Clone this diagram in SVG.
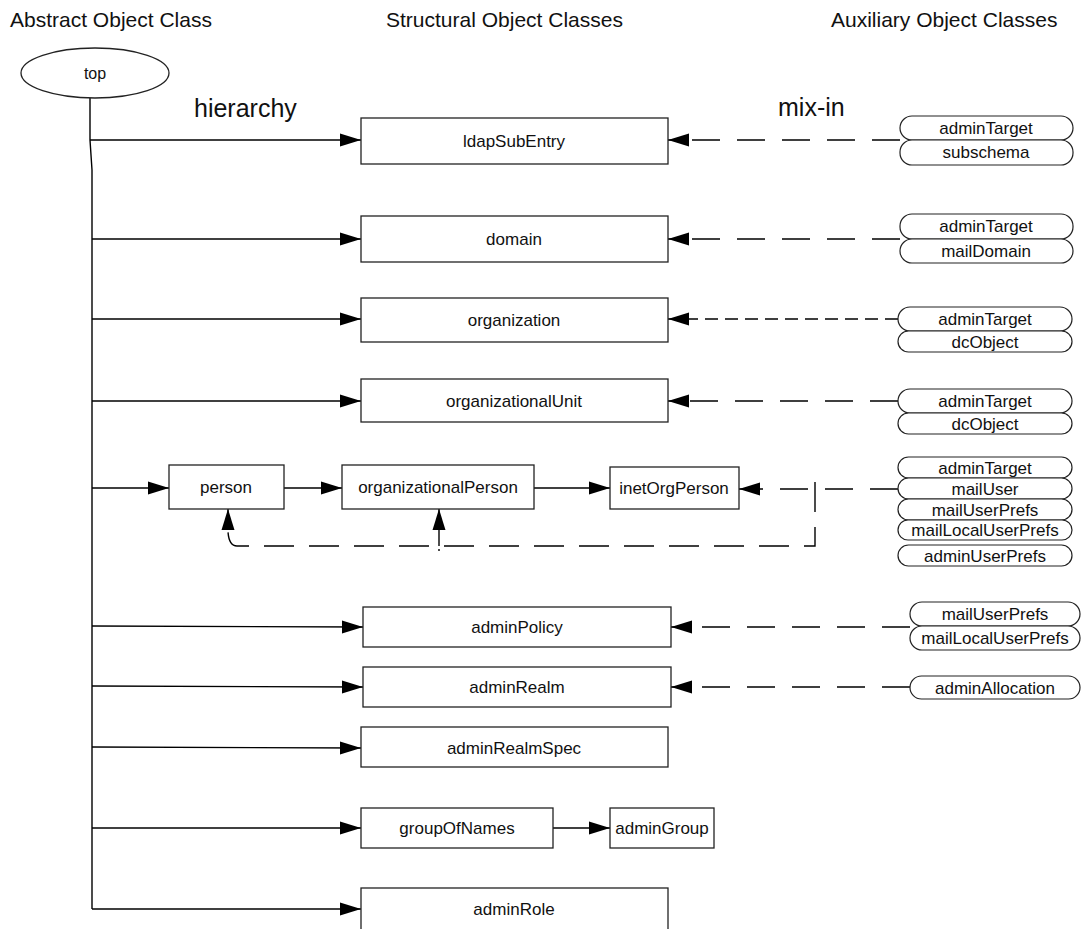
<svg xmlns="http://www.w3.org/2000/svg" width="1083" height="929" viewBox="0 0 1083 929">
  <style>
    text { font-family: "Liberation Sans", Arial, Helvetica, sans-serif; fill: #111; }
    .title { font-size: 21px; }
    .big { font-size: 25px; }
    .lbl { font-size: 17px; text-anchor: middle; }
    .box { fill: #fff; stroke: #222; stroke-width: 1.3; }
    .pill { fill: #fff; stroke: #222; stroke-width: 1.2; }
    .solid { fill: none; stroke: #000; stroke-width: 1.4; }
    .dash { fill: none; stroke: #000; stroke-width: 1.4; stroke-dasharray: 28 17; }
    .dash-short { fill: none; stroke: #000; stroke-width: 1.4; stroke-dasharray: 13 7; }
  </style>
  <defs>
    <marker id="arrow" markerWidth="21" markerHeight="14" refX="21" refY="7" orient="auto" markerUnits="userSpaceOnUse">
      <path d="M0,0.5 L21,7 L0,13.5 z" fill="#000"/>
    </marker>
  </defs>

  <rect width="1083" height="929" fill="#fff"/>

  <!-- column headings -->
  <g id="headings">
    <text class="title" x="10" y="27">Abstract Object Class</text>
    <text class="title" x="386" y="27">Structural Object Classes</text>
    <text class="title" x="831" y="27">Auxiliary Object Classes</text>
    <text class="big" x="194" y="117">hierarchy</text>
    <text class="big" x="778" y="116">mix-in</text>
  </g>

  <!-- connectors -->
  <g id="connectors">
    <!-- trunk from top -->
    <polyline class="solid" points="90,98 90,140 92,170 92,909"/>
    <!-- hierarchy arrows -->
    <line class="solid" x1="90" y1="140" x2="361" y2="140" marker-end="url(#arrow)"/>
    <line class="solid" x1="92" y1="239" x2="361" y2="239" marker-end="url(#arrow)"/>
    <line class="solid" x1="92" y1="319" x2="361" y2="319" marker-end="url(#arrow)"/>
    <line class="solid" x1="92" y1="401" x2="361" y2="401" marker-end="url(#arrow)"/>
    <line class="solid" x1="92" y1="488" x2="169" y2="488" marker-end="url(#arrow)"/>
    <line class="solid" x1="284" y1="488" x2="342" y2="488" marker-end="url(#arrow)"/>
    <line class="solid" x1="534" y1="488" x2="610" y2="488" marker-end="url(#arrow)"/>
    <line class="solid" x1="92" y1="626" x2="363" y2="627" marker-end="url(#arrow)"/>
    <line class="solid" x1="92" y1="686" x2="363" y2="687" marker-end="url(#arrow)"/>
    <line class="solid" x1="92" y1="747" x2="361" y2="748" marker-end="url(#arrow)"/>
    <line class="solid" x1="92" y1="828" x2="361" y2="828" marker-end="url(#arrow)"/>
    <line class="solid" x1="553" y1="828" x2="610" y2="828" marker-end="url(#arrow)"/>
    <line class="solid" x1="92" y1="909" x2="361" y2="909" marker-end="url(#arrow)"/>

    <!-- mix-in arrows -->
    <line class="dash" x1="900" y1="140" x2="668" y2="140" marker-end="url(#arrow)"/>
    <line class="dash" x1="900" y1="239" x2="668" y2="239" marker-end="url(#arrow)"/>
    <line class="dash-short" x1="898" y1="319" x2="668" y2="319" marker-end="url(#arrow)"/>
    <line class="dash" x1="898" y1="401" x2="668" y2="401" marker-end="url(#arrow)"/>
    <line class="dash" x1="898" y1="489" x2="739" y2="489" marker-end="url(#arrow)"/>
    <line class="dash" x1="910" y1="627" x2="671" y2="627" marker-end="url(#arrow)"/>
    <line class="dash" x1="910" y1="687" x2="671" y2="687" marker-end="url(#arrow)"/>

    <!-- person-level mix-in loop -->
    <path class="dash" style="stroke-dasharray: 30 15" d="M815,482 L815,546 L237,546 Q229,546 228,532 L228,509" marker-end="url(#arrow)"/>
    <line class="solid" x1="439" y1="546" x2="439" y2="509" marker-end="url(#arrow)"/>
    <line class="solid" x1="439" y1="549" x2="439" y2="551"/>
  </g>

  <!-- abstract class -->
  <g id="node-top">
    <ellipse cx="95" cy="73" rx="74" ry="25" fill="#fff" stroke="#222" stroke-width="1.3"/>
    <text class="lbl" style="font-size:16px" x="95" y="79">top</text>
  </g>

  <!-- structural classes -->
  <g id="node-ldapSubEntry">
    <rect class="box" x="361" y="118" width="307" height="46"/>
    <text class="lbl" x="514" y="147">ldapSubEntry</text>
  </g>
  <g id="node-domain">
    <rect class="box" x="361" y="216" width="307" height="46"/>
    <text class="lbl" x="514" y="245">domain</text>
  </g>
  <g id="node-organization">
    <rect class="box" x="361" y="298" width="307" height="44"/>
    <text class="lbl" x="514" y="326">organization</text>
  </g>
  <g id="node-organizationalUnit">
    <rect class="box" x="361" y="379" width="307" height="43"/>
    <text class="lbl" x="514" y="407">organizationalUnit</text>
  </g>
  <g id="node-person">
    <rect class="box" x="169" y="465" width="115" height="44"/>
    <text class="lbl" x="226" y="493">person</text>
  </g>
  <g id="node-organizationalPerson">
    <rect class="box" x="342" y="465" width="192" height="44"/>
    <text class="lbl" x="438" y="493">organizationalPerson</text>
  </g>
  <g id="node-inetOrgPerson">
    <rect class="box" x="610" y="467" width="129" height="42"/>
    <text class="lbl" x="674" y="494">inetOrgPerson</text>
  </g>
  <g id="node-adminPolicy">
    <rect class="box" x="363" y="607" width="308" height="40"/>
    <text class="lbl" x="517" y="633">adminPolicy</text>
  </g>
  <g id="node-adminRealm">
    <rect class="box" x="363" y="667" width="308" height="40"/>
    <text class="lbl" x="517" y="693">adminRealm</text>
  </g>
  <g id="node-adminRealmSpec">
    <rect class="box" x="361" y="727" width="307" height="40"/>
    <text class="lbl" x="514" y="754">adminRealmSpec</text>
  </g>
  <g id="node-groupOfNames">
    <rect class="box" x="361" y="808" width="192" height="40"/>
    <text class="lbl" x="457" y="834">groupOfNames</text>
  </g>
  <g id="node-adminGroup">
    <rect class="box" x="610" y="808" width="104" height="40"/>
    <text class="lbl" x="662" y="834">adminGroup</text>
  </g>
  <g id="node-adminRole">
    <rect class="box" x="361" y="888" width="307" height="44"/>
    <text class="lbl" x="514" y="915">adminRole</text>
  </g>

  <!-- auxiliary classes -->
  <g id="aux-ldapSubEntry">
    <rect class="pill" x="900" y="116" width="173" height="24" rx="12"/>
    <text class="lbl" x="986" y="134">adminTarget</text>
    <rect class="pill" x="900" y="140" width="173" height="25" rx="12"/>
    <text class="lbl" x="986" y="158">subschema</text>
  </g>
  <g id="aux-domain">
    <rect class="pill" x="900" y="214" width="173" height="25" rx="12"/>
    <text class="lbl" x="986" y="232">adminTarget</text>
    <rect class="pill" x="900" y="239" width="173" height="24" rx="12"/>
    <text class="lbl" x="986" y="257">mailDomain</text>
  </g>
  <g id="aux-organization">
    <rect class="pill" x="898" y="307" width="174" height="24" rx="12"/>
    <text class="lbl" x="985" y="325">adminTarget</text>
    <rect class="pill" x="898" y="331" width="174" height="21" rx="10.5"/>
    <text class="lbl" x="985" y="348">dcObject</text>
  </g>
  <g id="aux-organizationalUnit">
    <rect class="pill" x="898" y="389" width="174" height="24" rx="12"/>
    <text class="lbl" x="985" y="407">adminTarget</text>
    <rect class="pill" x="898" y="413" width="174" height="21" rx="10.5"/>
    <text class="lbl" x="985" y="430">dcObject</text>
  </g>
  <g id="aux-inetOrgPerson">
    <rect class="pill" x="898" y="457" width="174" height="21" rx="10.5"/>
    <text class="lbl" x="985" y="474">adminTarget</text>
    <rect class="pill" x="898" y="478" width="174" height="21" rx="10.5"/>
    <text class="lbl" x="985" y="495">mailUser</text>
    <rect class="pill" x="898" y="499" width="174" height="21" rx="10.5"/>
    <text class="lbl" x="985" y="516">mailUserPrefs</text>
    <rect class="pill" x="898" y="520" width="174" height="20" rx="10"/>
    <text class="lbl" x="985" y="536">mailLocalUserPrefs</text>
    <rect class="pill" x="898" y="545" width="174" height="21" rx="10.5"/>
    <text class="lbl" x="985" y="562">adminUserPrefs</text>
  </g>
  <g id="aux-adminPolicy">
    <rect class="pill" x="910" y="602" width="170" height="24" rx="12"/>
    <text class="lbl" x="995" y="620">mailUserPrefs</text>
    <rect class="pill" x="910" y="626" width="170" height="24" rx="12"/>
    <text class="lbl" x="995" y="644">mailLocalUserPrefs</text>
  </g>
  <g id="aux-adminRealm">
    <rect class="pill" x="910" y="676" width="170" height="23" rx="11.5"/>
    <text class="lbl" x="995" y="694">adminAllocation</text>
  </g>
</svg>
